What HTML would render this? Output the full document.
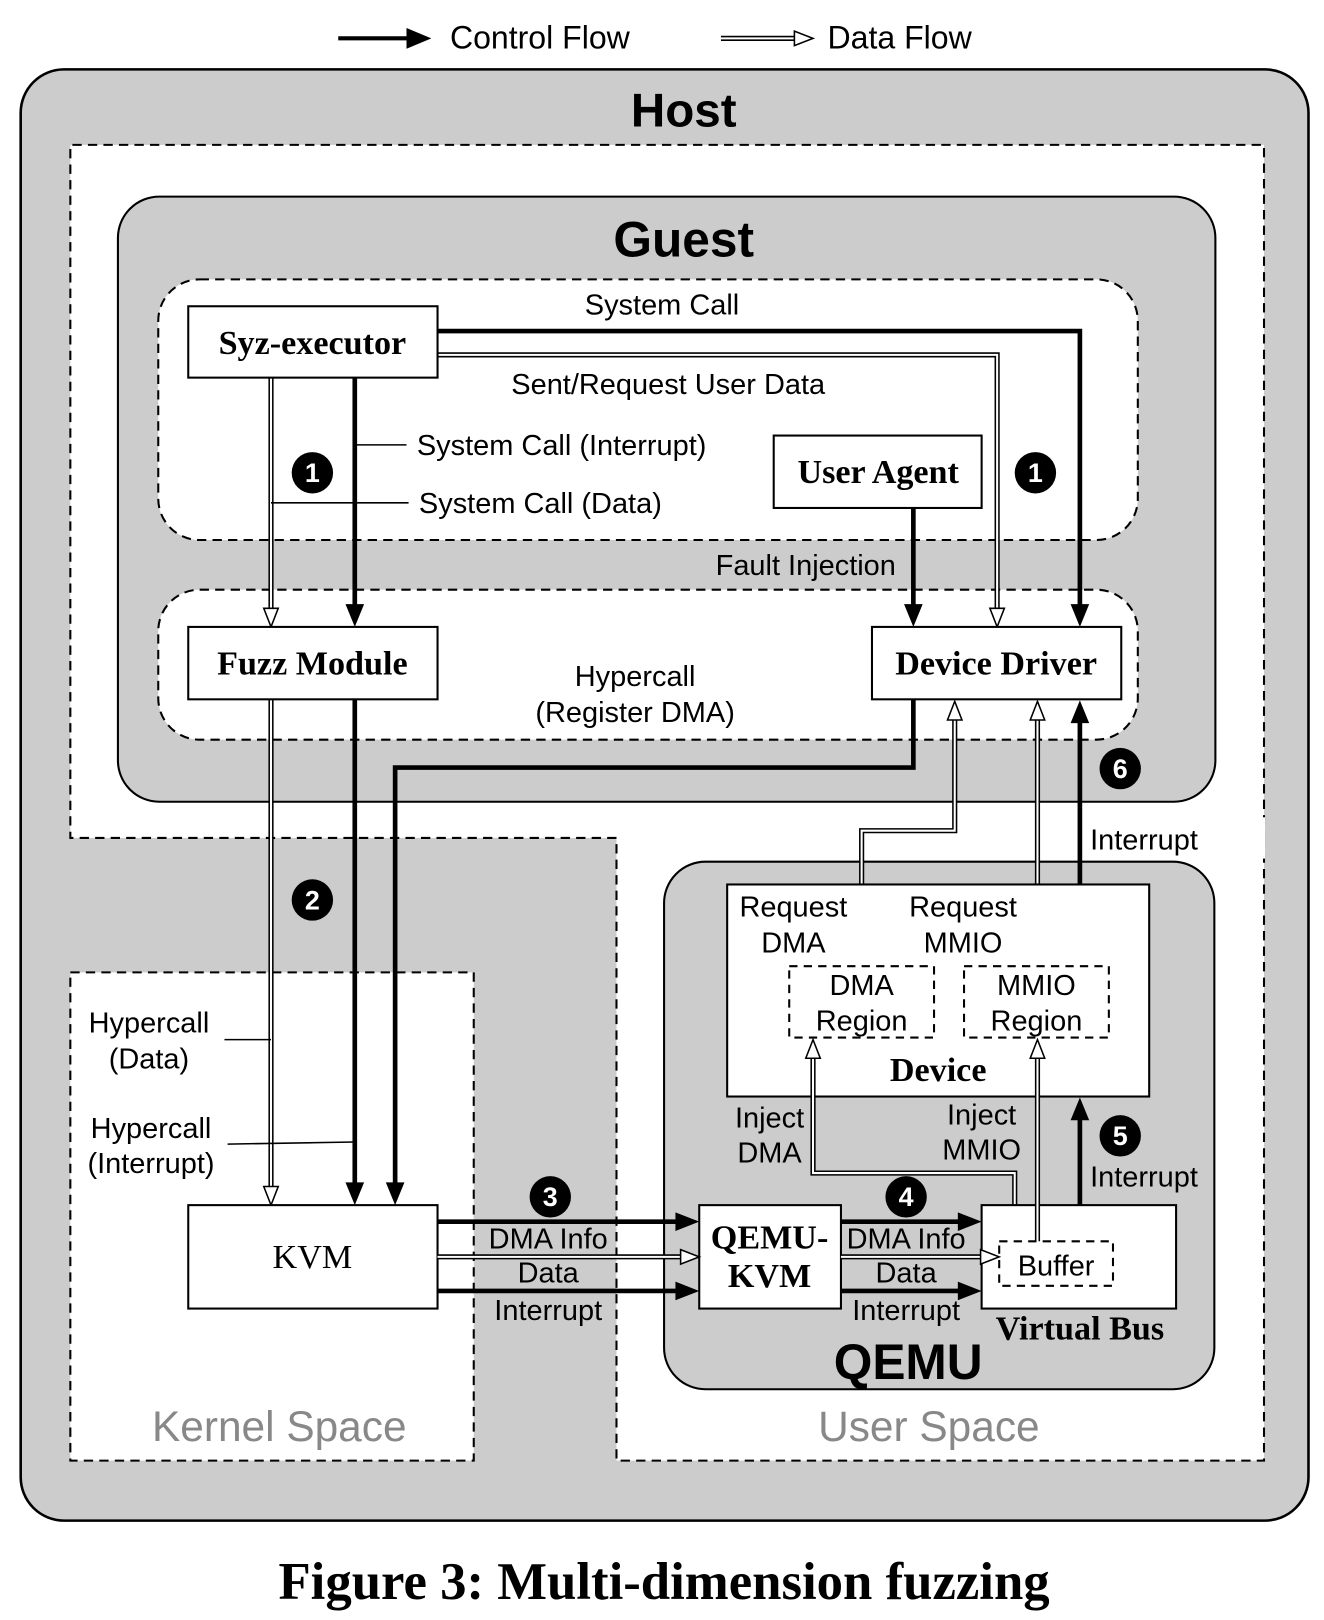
<!DOCTYPE html>
<html><head><meta charset="utf-8"><style>
html,body{margin:0;padding:0;background:#fff}
svg{display:block}
text{font-family:"Liberation Sans",sans-serif;fill:#000}
.s{font-family:"Liberation Serif",serif;font-weight:bold}
.lbl{font-size:28px}
.db{fill:none;stroke:#000;stroke-width:5}
.dw{fill:none;stroke:#fff;stroke-width:2}
.th{fill:none;stroke:#000;stroke-width:4.5}
.oh{fill:#fff;stroke:#000;stroke-width:1.5}
.fh{fill:#000}
.num{fill:#fff;font-weight:bold;font-size:26px;text-anchor:middle}
</style></head><body>
<svg width="1324" height="1620" viewBox="0 0 1280 1566" xmlns="http://www.w3.org/2000/svg">
<!-- legend -->
<line x1="327" y1="37" x2="395" y2="37" stroke="#000" stroke-width="4"/>
<polygon class="fh" points="393,27 393,47 417,37"/>
<text x="435" y="47" font-size="31">Control Flow</text>
<path class="db" d="M697 37 H770"/><path class="dw" d="M697 37 H770"/>
<polygon class="oh" points="768,30 768,44 786,37"/>
<text x="800" y="47" font-size="31">Data Flow</text>

<!-- host -->
<rect x="20" y="67" width="1245" height="1403" rx="42" fill="#cccccc" stroke="#000" stroke-width="2.5"/>
<text x="661" y="122" font-size="46" font-weight="bold" text-anchor="middle">Host</text>
<path d="M68 140 H1222 V1412 H596 V810 H68 Z" fill="#fff" stroke="none"/>
<path d="M1222 810 V1412 H596 V810 H68 V140 H1222 V812" fill="none" stroke="#000" stroke-width="2" stroke-dasharray="9,6"/>
<rect x="1160" y="790" width="63" height="40" fill="#fff"/>
<rect x="68" y="940" width="390" height="472" fill="#fff" stroke="#000" stroke-width="2" stroke-dasharray="9,6"/>
<text x="270" y="1393" font-size="41" style="fill:#888" text-anchor="middle">Kernel Space</text>
<text x="898" y="1393" font-size="41" style="fill:#888" text-anchor="middle">User Space</text>

<!-- guest -->
<rect x="114" y="190" width="1061" height="585" rx="40" fill="#cccccc" stroke="#000" stroke-width="2"/>
<text x="661" y="248" font-size="48" font-weight="bold" text-anchor="middle">Guest</text>
<rect x="153" y="270" width="947" height="252" rx="40" fill="#fff" stroke="#000" stroke-width="2" stroke-dasharray="9,6"/>
<rect x="153" y="570" width="947" height="145" rx="40" fill="#fff" stroke="#000" stroke-width="2" stroke-dasharray="9,6"/>

<!-- QEMU -->
<rect x="642" y="833" width="532" height="510" rx="40" fill="#cccccc" stroke="#000" stroke-width="2"/>
<text x="878" y="1333" font-size="48" font-weight="bold" text-anchor="middle">QEMU</text>

<!-- lines: syz -->
<path class="th" d="M423 320 H1044 V585"/>
<polygon class="fh" points="1035,584 1053,584 1044,606"/>
<text x="640" y="304" class="lbl" text-anchor="middle">System Call</text>
<path class="db" d="M423 343 H964 V590"/><path class="dw" d="M423 343 H964 V590"/>
<polygon class="oh" points="957,588 971,588 964,606"/>
<text x="646" y="381" class="lbl" text-anchor="middle">Sent/Request User Data</text>
<path class="th" d="M343 365 V585"/>
<polygon class="fh" points="334,584 352,584 343,606"/>
<path class="db" d="M262 365 V590"/><path class="dw" d="M262 365 V590"/>
<polygon class="oh" points="255,588 269,588 262,606"/>
<line x1="343" y1="430" x2="393" y2="430" stroke="#000" stroke-width="1.5"/>
<text x="403" y="440" class="lbl">System Call (Interrupt)</text>
<line x1="262" y1="486" x2="395" y2="486" stroke="#000" stroke-width="1.5"/>
<text x="405" y="496" class="lbl">System Call (Data)</text>
<path class="th" d="M883 491 V585"/>
<polygon class="fh" points="874,584 892,584 883,606"/>
<text x="779" y="556" class="lbl" text-anchor="middle">Fault Injection</text>

<!-- fuzz to kvm -->
<path class="db" d="M262 676 V1148"/><path class="dw" d="M262 676 V1148"/>
<polygon class="oh" points="255,1147 269,1147 262,1165"/>
<path class="th" d="M343 676 V1144"/>
<polygon class="fh" points="334,1143 352,1143 343,1165"/>
<path class="th" d="M883 676 V742 H382 V1144"/>
<polygon class="fh" points="373,1143 391,1143 382,1165"/>
<text x="614" y="663" class="lbl" text-anchor="middle">Hypercall</text>
<text x="614" y="698" class="lbl" text-anchor="middle">(Register DMA)</text>
<text x="144" y="998" class="lbl" text-anchor="middle">Hypercall</text>
<text x="144" y="1033" class="lbl" text-anchor="middle">(Data)</text>
<line x1="217" y1="1005" x2="262" y2="1005" stroke="#000" stroke-width="1.5"/>
<text x="146" y="1100" class="lbl" text-anchor="middle">Hypercall</text>
<text x="146" y="1134" class="lbl" text-anchor="middle">(Interrupt)</text>
<line x1="220" y1="1106" x2="343" y2="1104" stroke="#000" stroke-width="1.5"/>

<!-- device region arrows up -->
<path class="db" d="M833 934 V803 H923 V694"/><path class="dw" d="M833 934 V803 H923 V694"/>
<polygon class="oh" points="916,696 930,696 923,678"/>
<path class="db" d="M1003 934 V694"/><path class="dw" d="M1003 934 V694"/>
<polygon class="oh" points="996,696 1010,696 1003,678"/>
<path class="th" d="M1044 855 V698"/>
<polygon class="fh" points="1035,699 1053,699 1044,677"/>
<text x="1106" y="821" class="lbl" text-anchor="middle">Interrupt</text>

<!-- boxes -->
<rect x="182" y="296" width="241" height="69" fill="#fff" stroke="#000" stroke-width="2"/>
<text x="302" y="342" class="s" font-size="33" text-anchor="middle">Syz-executor</text>
<rect x="748" y="421" width="201" height="70" fill="#fff" stroke="#000" stroke-width="2"/>
<text x="849" y="467" class="s" font-size="33" text-anchor="middle">User Agent</text>
<rect x="182" y="606" width="241" height="70" fill="#fff" stroke="#000" stroke-width="2"/>
<text x="302" y="652" class="s" font-size="33" text-anchor="middle">Fuzz Module</text>
<rect x="843" y="606" width="241" height="70" fill="#fff" stroke="#000" stroke-width="2"/>
<text x="963" y="652" class="s" font-size="33" text-anchor="middle">Device Driver</text>
<rect x="182" y="1165" width="241" height="100" fill="#fff" stroke="#000" stroke-width="2"/>
<text x="302" y="1226" style="font-family:'Liberation Serif',serif" font-size="33" text-anchor="middle">KVM</text>

<!-- device -->
<rect x="703" y="855" width="408" height="205" fill="#fff" stroke="#000" stroke-width="2"/>
<text x="767" y="886" class="lbl" text-anchor="middle">Request</text>
<text x="767" y="921" class="lbl" text-anchor="middle">DMA</text>
<text x="931" y="886" class="lbl" text-anchor="middle">Request</text>
<text x="931" y="921" class="lbl" text-anchor="middle">MMIO</text>
<rect x="763" y="934" width="140" height="69" fill="#fff" stroke="#000" stroke-width="2" stroke-dasharray="8,6"/>
<text x="833" y="962" class="lbl" text-anchor="middle">DMA</text>
<text x="833" y="996" class="lbl" text-anchor="middle">Region</text>
<rect x="932" y="934" width="140" height="69" fill="#fff" stroke="#000" stroke-width="2" stroke-dasharray="8,6"/>
<text x="1002" y="962" class="lbl" text-anchor="middle">MMIO</text>
<text x="1002" y="996" class="lbl" text-anchor="middle">Region</text>
<text x="907" y="1045" class="s" font-size="33" text-anchor="middle">Device</text>

<!-- qemu internal -->
<path class="db" d="M981 1165 V1134 H786 V1021"/><path class="dw" d="M981 1165 V1134 H786 V1021"/>
<polygon class="oh" points="779,1023 793,1023 786,1005"/>
<text x="744" y="1090" class="lbl" text-anchor="middle">Inject</text>
<text x="744" y="1124" class="lbl" text-anchor="middle">DMA</text>
<text x="949" y="1087" class="lbl" text-anchor="middle">Inject</text>
<text x="949" y="1121" class="lbl" text-anchor="middle">MMIO</text>
<path class="th" d="M1044 1165 V1082"/>
<polygon class="fh" points="1035,1083 1053,1083 1044,1061"/>
<text x="1106" y="1147" class="lbl" text-anchor="middle">Interrupt</text>

<rect x="676" y="1165" width="137" height="100" fill="#fff" stroke="#000" stroke-width="2"/>
<text x="744" y="1207" class="s" font-size="33" text-anchor="middle">QEMU-</text>
<text x="744" y="1244" class="s" font-size="33" text-anchor="middle">KVM</text>
<rect x="949" y="1165" width="188" height="100" fill="#fff" stroke="#000" stroke-width="2"/>
<path class="db" d="M1003 1200 V1021"/><path class="dw" d="M1003 1200 V1021"/>
<polygon class="oh" points="996,1023 1010,1023 1003,1005"/>
<rect x="966" y="1200" width="110" height="43" fill="#fff" stroke="#000" stroke-width="2" stroke-dasharray="8,6"/>
<text x="1021" y="1233" class="lbl" text-anchor="middle">Buffer</text>
<text x="1044" y="1295" class="s" font-size="33" text-anchor="middle">Virtual Bus</text>

<!-- KVM -> QEMU-KVM -->
<path class="th" d="M423 1181 H654"/><polygon class="fh" points="653,1172 653,1190 676,1181"/>
<path class="db" d="M423 1215 H660"/><path class="dw" d="M423 1215 H660"/><polygon class="oh" points="658,1208 658,1222 676,1215"/>
<path class="th" d="M423 1248 H654"/><polygon class="fh" points="653,1239 653,1257 676,1248"/>
<text x="530" y="1207" class="lbl" text-anchor="middle">DMA Info</text>
<text x="530" y="1240" class="lbl" text-anchor="middle">Data</text>
<text x="530" y="1276" class="lbl" text-anchor="middle">Interrupt</text>
<!-- QEMU-KVM -> VB -->
<path class="th" d="M813 1181 H927"/><polygon class="fh" points="926,1172 926,1190 949,1181"/>
<path class="db" d="M813 1215 H950"/><path class="dw" d="M813 1215 H950"/><polygon class="oh" points="948,1208 948,1222 966,1215"/>
<path class="th" d="M813 1248 H927"/><polygon class="fh" points="926,1239 926,1257 949,1248"/>
<text x="876" y="1207" class="lbl" text-anchor="middle">DMA Info</text>
<text x="876" y="1240" class="lbl" text-anchor="middle">Data</text>
<text x="876" y="1276" class="lbl" text-anchor="middle">Interrupt</text>

<!-- numbers -->
<circle cx="302" cy="457" r="20"/><text x="302" y="466" class="num" style="fill:#fff">1</text>
<circle cx="1001" cy="457" r="20"/><text x="1001" y="466" class="num" style="fill:#fff">1</text>
<circle cx="302" cy="870" r="20"/><text x="302" y="879" class="num" style="fill:#fff">2</text>
<circle cx="532" cy="1157" r="20"/><text x="532" y="1166" class="num" style="fill:#fff">3</text>
<circle cx="876" cy="1157" r="20"/><text x="876" y="1166" class="num" style="fill:#fff">4</text>
<circle cx="1083" cy="1098" r="20"/><text x="1083" y="1107" class="num" style="fill:#fff">5</text>
<circle cx="1083" cy="743" r="20"/><text x="1083" y="752" class="num" style="fill:#fff">6</text>

<text x="642" y="1546" class="s" font-size="51" text-anchor="middle">Figure 3: Multi-dimension fuzzing</text>
</svg>
</body></html>
